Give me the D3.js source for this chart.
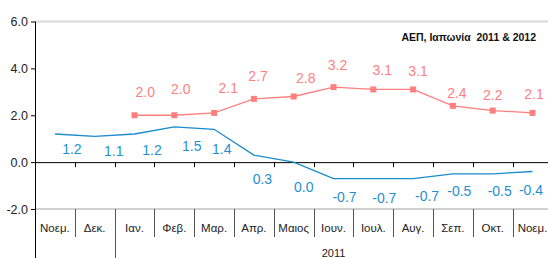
<!DOCTYPE html>
<html><head><meta charset="utf-8">
<script src="https://cdn.jsdelivr.net/npm/d3@7"></script>
<style>
html,body{margin:0;padding:0;background:#fff;overflow:hidden}
text{font-family:"Liberation Sans",Arial,sans-serif}
</style></head>
<body><svg id="c" width="548" height="258"></svg>
<script>
// ---- data ----
const categories = ["Νοεμ.","Δεκ.","Ιαν.","Φεβ.","Μαρ.","Απρ.","Μαιος","Ιουν.","Ιουλ.","Αυγ.","Σεπ.","Οκτ.","Νοεμ."];
const series2011 = [1.2, 1.1, 1.2, 1.5, 1.4, 0.3, 0.0, -0.7, -0.7, -0.7, -0.5, -0.5, -0.4];
const series2012 = [null, null, 2.0, 2.0, 2.1, 2.7, 2.8, 3.2, 3.1, 3.1, 2.4, 2.2, 2.1];
const yTicks = [-2, 0, 2, 4, 6];
const yearLabel = "2011";
const yearStartIndex = 2;
const title = "ΑΕΠ, Ιαπωνία  2011 & 2012";

// ---- layout (label nudges in px, relative to the point) ----
const nudge2011 = [[17,15],[19,15],[17.5,16],[17.5,19],[7.6,20],[8.5,23.4],[10,25],[11,18.6],[11,19],[14,17],[6.4,16.7],[7,17],[-1.5,18]];
const nudge2012 = [null,null,[10.7,-23.7],[6.5,-26],[14.2,-24.8],[4.2,-22.5],[12,-19],[4,-22.3],[9,-20],[5,-18.3],[4,-13],[0,-15.7],[1.5,-18.8]];

const fmt = v => d3.format(".1f")(v).replace("\u2212", "-");

const svg = d3.select("#c");
const pLeft = 35, pRight = 552.4, pTop = 21.5, pBottom = 209;
const x = d3.scaleBand().domain(d3.range(categories.length)).range([pLeft, pRight]).padding(0);
const y = d3.scaleLinear().domain([-2, 6]).range([pBottom, pTop]);
const cx = i => x(i) + x.bandwidth()/2;

const blue = "#1a8bcb", blueTxt = "#1f8fd0", pink = "#ff7f7f";

// gridlines at 6 and -2
svg.append("line").attr("x1", pLeft).attr("x2", 548).attr("y1", y(6)).attr("y2", y(6))
  .attr("stroke", "#d9d9d9").attr("stroke-width", 2);
svg.append("line").attr("x1", pLeft).attr("x2", 548).attr("y1", y(-2)).attr("y2", y(-2))
  .attr("stroke", "#d0d0d0").attr("stroke-width", 2);

// y axis
const yAxis = d3.axisLeft(y).tickValues(yTicks).tickFormat(fmt).tickSize(4).tickPadding(3);
const ya = svg.append("g").attr("transform", `translate(${pLeft},0)`).call(yAxis);
ya.select(".domain").remove();
ya.selectAll("text").attr("font-size", "12.5px").attr("fill", "#222").attr("font-family", '"Liberation Sans",Arial,sans-serif');
ya.selectAll("line").attr("stroke", "#000");
svg.append("line").attr("x1", pLeft+0.5).attr("x2", pLeft+0.5).attr("y1", pTop).attr("y2", 258).attr("stroke", "#000");

// zero line with ticks at category boundaries
svg.append("line").attr("x1", pLeft).attr("x2", 548).attr("y1", y(0)+0.5).attr("y2", y(0)+0.5).attr("stroke", "#000");
svg.selectAll(".zt").data(d3.range(1, categories.length)).join("line")
  .attr("x1", i => Math.round(x(i))+0.5).attr("x2", i => Math.round(x(i))+0.5)
  .attr("y1", y(0)).attr("y2", y(0)+5).attr("stroke", "#000");

// category cell separators
svg.selectAll(".sep").data(d3.range(1, categories.length)).join("line")
  .attr("x1", i => Math.round(x(i))+0.5).attr("x2", i => Math.round(x(i))+0.5)
  .attr("y1", pBottom).attr("y2", i => i === yearStartIndex ? 258 : 237)
  .attr("stroke", "#555");

// category labels
svg.selectAll(".cat").data(categories).join("text")
  .attr("x", (d,i) => cx(i)).attr("y", 232).attr("text-anchor", "middle")
  .attr("font-size", "11.5px").attr("fill", "#222").text(d => d);

// year label
svg.append("text").attr("x", (x(yearStartIndex) + pRight)/2).attr("y", 256.5)
  .attr("text-anchor", "middle").attr("font-size", "11px").attr("fill", "#222").text(yearLabel);

// title
svg.append("text").attr("x", 536).attr("y", 41).attr("text-anchor", "end")
  .style("white-space", "pre")
  .attr("font-size", "10.5px").attr("font-weight", "bold").attr("fill", "#111").text(title);

// 2011 line
const line = d3.line().defined(d => d != null).x((d,i) => cx(i)).y(d => y(d));
svg.append("path").datum(series2011).attr("d", line).attr("fill", "none")
  .attr("stroke", blue).attr("stroke-width", 1.3);
svg.selectAll(".l11").data(series2011).join("text")
  .attr("x", (d,i) => cx(i) + nudge2011[i][0]).attr("y", (d,i) => y(d) + nudge2011[i][1])
  .attr("dy", "0.36em").attr("text-anchor", "middle").attr("font-size", "14px")
  .attr("fill", blueTxt).text(d => fmt(d));

// 2012 line
svg.append("path").datum(series2012).attr("d", line).attr("fill", "none")
  .attr("stroke", pink).attr("stroke-width", 1.3);
const pts = series2012.map((d,i) => ({d, i})).filter(p => p.d != null);
svg.selectAll(".m12").data(pts).join("rect")
  .attr("x", p => cx(p.i) - 3).attr("y", p => y(p.d) - 3).attr("width", 6).attr("height", 6)
  .attr("fill", pink);
svg.selectAll(".l12").data(pts).join("text")
  .attr("x", p => cx(p.i) + nudge2012[p.i][0]).attr("y", p => y(p.d) + nudge2012[p.i][1])
  .attr("dy", "0.36em").attr("text-anchor", "middle").attr("font-size", "14px")
  .attr("fill", pink).text(p => fmt(p.d));
</script></body></html>
